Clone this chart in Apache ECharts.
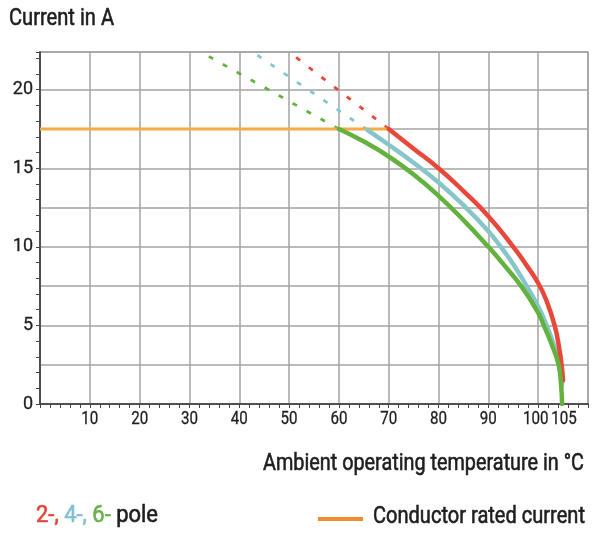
<!DOCTYPE html>
<html><head><meta charset="utf-8">
<script src="https://cdn.jsdelivr.net/npm/echarts@6/dist/echarts.min.js"></script>
<style>html,body{margin:0;padding:0;background:#fff}#c{width:592px;height:533px}</style>
</head><body><div id="c"></div>
<script>
const FONT = "Roboto, 'Liberation Sans', sans-serif";

// axis ranges / tick labels
const xMin = 0, xMax = 110, yMin = 0, yMax = 22.4;
const xTickLabels = [10, 20, 30, 40, 50, 60, 70, 80, 90, 100, 105];
const yLabels = [0, 5, 10, 15, 20];

// texts
const yTitle = 'Current in A';
const xTitle = 'Ambient operating temperature in °C';
const legendPoles = ['2-,', '4-,', '6-', 'pole'];
const legendRated = 'Conductor rated current';

// Conductor rated current (orange)
const ratedTemp = [0, 70];
const ratedCurrent = [17.5, 17.5];

// 2-pole (red) solid
const pole2Temp = [70, 75, 80, 85, 90, 95, 97.5, 100, 101.7, 103.3, 104.2, 104.7, 105];
const pole2Current = [17.5, 16.25, 15.0, 13.55, 11.95, 10.0, 8.9, 7.7, 6.55, 5.0, 3.6, 2.5, 1.5];
// 2-pole dashed extension
const pole2DashTemp = [70, 50];
const pole2DashCurrent = [17.5, 22.4];

// 4-pole (cyan) solid
const pole4Temp = [65.7, 70, 75, 80, 85, 90, 92.5, 95, 97.5, 100, 101.7, 103.2, 104.3, 104.8];
const pole4Current = [17.45, 16.5, 15.35, 14.1, 12.65, 11.0, 10.0, 8.9, 7.6, 6.2, 5.0, 3.7, 2.5, 1.2];
// 4-pole dashed extension
const pole4DashTemp = [65.7, 42.7];
const pole4DashCurrent = [17.45, 22.4];

// 6-pole (green) solid
const pole6Temp = [60, 65, 70, 75, 80, 85, 90, 93, 96.7, 100, 101, 102.7, 104.1, 104.6, 104.8];
const pole6Current = [17.5, 16.7, 15.75, 14.6, 13.25, 11.7, 10.0, 8.9, 7.45, 5.8, 5.1, 3.8, 2.5, 1.2, 0];
// 6-pole dashed extension
const pole6DashTemp = [60, 32.3];
const pole6DashCurrent = [17.5, 22.4];

const zip = (xs, ys) => xs.map((x, i) => [x, ys[i]]);

const C_RED = '#e8473a', C_CYAN = '#86c6cb', C_GREEN = '#64b23e', C_ORANGE = '#f6a947';
const GRIDC = '#a3a3a3', TXT = '#1e1e1e';

// horizontal squeeze so normal-width fonts match the condensed original
const mctx = document.createElement('canvas').getContext('2d');
function fitScale(text, font, target) {
  mctx.font = font;
  return target / mctx.measureText(text).width;
}
const BIG = '24px ' + FONT;
const TICKF = '18px ' + FONT;
const THICK = {stroke: TXT, lineWidth: 0.6};

const chart = echarts.init(document.getElementById('c'), null, {renderer: 'canvas'});

function solid(name, data, color) {
  return {name, type: 'line', data, showSymbol: false, smooth: 0.5, z: 4,
    lineStyle: {color, width: 4.5, cap: 'round'}, xAxisIndex: 0, yAxisIndex: 0};
}
function dashed(name, data, color) {
  return {name, type: 'line', data, showSymbol: false, z: 3,
    lineStyle: {color, width: 2.8, type: [5, 11]}, xAxisIndex: 0, yAxisIndex: 0};
}

const poleScale = fitScale(legendPoles.join(' '), BIG, 122);
const ratedScale = fitScale(legendRated, BIG, 212);

const option = {
  animation: false,
  backgroundColor: '#fff',
  textStyle: {fontFamily: FONT},
  grid: {left: 40, right: 4, top: 52, bottom: 129, show: true, borderColor: GRIDC, borderWidth: 1.5},
  xAxis: [
    {type: 'value', position: 'bottom', min: xMin, max: xMax, interval: 10,
      axisLine: {show: true, lineStyle: {color: '#333', width: 1.5}},
      axisTick: {show: false},
      splitLine: {show: true, lineStyle: {color: GRIDC, width: 1.5}},
      axisLabel: {show: false}},
    {type: 'value', position: 'bottom', min: xMin, max: xMax, interval: 2,
      axisLine: {show: false}, splitLine: {show: false}, axisLabel: {show: false},
      axisTick: {show: true, length: 4, lineStyle: {color: '#444', width: 1}}}
  ],
  yAxis: [
    {type: 'value', position: 'left', min: yMin, max: yMax, interval: 2.5,
      axisLine: {show: true, lineStyle: {color: '#333', width: 1.5}},
      axisTick: {show: false},
      splitLine: {show: true, lineStyle: {color: GRIDC, width: 1.5}},
      axisLabel: {margin: 7, fontSize: 18, color: TXT, fontFamily: FONT,
        textBorderColor: TXT, textBorderWidth: 0.3,
        formatter: v => yLabels.includes(v) ? String(v) : ''}},
    {type: 'value', position: 'left', min: yMin, max: yMax, interval: 1,
      axisLine: {show: false}, splitLine: {show: false}, axisLabel: {show: false},
      axisTick: {show: true, length: 4, lineStyle: {color: '#444', width: 1}}}
  ],
  series: [
    dashed('6-pole ext', zip(pole6DashTemp, pole6DashCurrent), C_GREEN),
    dashed('4-pole ext', zip(pole4DashTemp, pole4DashCurrent), C_CYAN),
    dashed('2-pole ext', zip(pole2DashTemp, pole2DashCurrent), C_RED),
    {name: legendRated, type: 'line', data: zip(ratedTemp, ratedCurrent), showSymbol: false, z: 3,
      lineStyle: {color: C_ORANGE, width: 3}},
    solid('4-pole', zip(pole4Temp, pole4Current), C_CYAN),
    solid('2-pole', zip(pole2Temp, pole2Current), C_RED),
    solid('6-pole', zip(pole6Temp, pole6Current), C_GREEN)
  ],
  graphic: [
    {id: 'ytitle', type: 'text', x: 9, y: 19, scaleX: fitScale(yTitle, BIG, 105),
      style: Object.assign({text: yTitle, font: BIG, fill: TXT, verticalAlign: 'middle', align: 'left'}, THICK)},
    {id: 'xtitle', type: 'text', x: 263, y: 464, scaleX: fitScale(xTitle, BIG, 321),
      style: Object.assign({text: xTitle, font: BIG, fill: TXT, verticalAlign: 'middle', align: 'left'}, THICK)},
    {id: 'legpoles', type: 'text', x: 36, y: 516, scaleX: poleScale, style: {
      text: `{r|${legendPoles[0]}} {c|${legendPoles[1]}} {g|${legendPoles[2]}} {k|${legendPoles[3]}}`,
      font: BIG, verticalAlign: 'middle', align: 'left', fill: TXT,
      rich: {
        r: {fill: '#e2453b', font: BIG, stroke: '#e2453b', lineWidth: 0.6},
        c: {fill: '#7fc0cf', font: BIG, stroke: '#7fc0cf', lineWidth: 0.6},
        g: {fill: '#6ab04c', font: BIG, stroke: '#6ab04c', lineWidth: 0.6},
        k: {fill: TXT, font: BIG, stroke: TXT, lineWidth: 0.6}
      }}},
    {id: 'legline', type: 'line', shape: {x1: 318, y1: 519, x2: 363, y2: 519}, style: {stroke: '#f08c32', lineWidth: 4}},
    {id: 'legrated', type: 'text', x: 373, y: 517, scaleX: ratedScale,
      style: Object.assign({text: legendRated, font: BIG, fill: TXT, verticalAlign: 'middle', align: 'left'}, {stroke: TXT, lineWidth: 0.6})}
  ]
};
chart.setOption(option);

// x tick labels, placed through the x axis scale (condensed like the original)
const axisY = chart.convertToPixel({yAxisIndex: 0}, yMin);
const nudge = {100: -2.5, 105: 1};
const xLabelGraphics = xTickLabels.map(v => ({
  id: 'xl' + v, type: 'text',
  x: chart.convertToPixel({xAxisIndex: 0}, v) + (nudge[v] || 0),
  y: axisY + 15, scaleX: 0.84,
  style: {text: String(v), font: TICKF, fill: TXT, stroke: TXT, lineWidth: 0.3,
    align: 'center', verticalAlign: 'middle'}
}));
chart.setOption({graphic: xLabelGraphics});
</script>
</body></html>
